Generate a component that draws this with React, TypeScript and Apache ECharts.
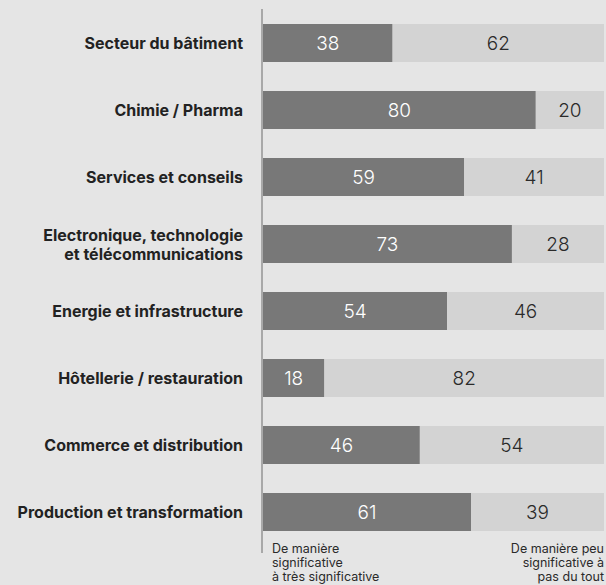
import React, { useEffect, useRef } from "react";
import * as echarts from "echarts";

const categories = [
  "Secteur du bâtiment",
  "Chimie / Pharma",
  "Services et conseils",
  "Electronique, technologie\net télécommunications",
  "Energie et infrastructure",
  "Hôtellerie / restauration",
  "Commerce et distribution",
  "Production et transformation",
];
const significant = [38, 80, 59, 73, 54, 18, 46, 61];
const notSignificant = [62, 20, 41, 28, 46, 82, 54, 39];
const leftNote = "De manière\nsignificative\nà très significative";
const rightNote = "De manière peu\nsignificative à\npas du tout";

const FONT = "Inter, 'Noto Sans', sans-serif";

export default function App() {
  const ref = useRef<HTMLDivElement>(null);
  useEffect(() => {
    document.body.style.margin = "0";
    const chart = echarts.init(ref.current!, null, { renderer: "svg" });
    chart.setOption({
      animation: false,
      backgroundColor: "#e5e5e5",
      textStyle: { fontFamily: FONT },
      grid: { left: 263, right: 2, top: 9.5, bottom: 39.5, containLabel: false },
      xAxis: {
        type: "value",
        min: 0,
        max: 100,
        show: false,
      },
      yAxis: {
        type: "category",
        inverse: true,
        data: categories,
        axisLine: { show: false },
        axisTick: { show: false },
        axisLabel: {
          margin: 20,
          fontFamily: FONT,
          fontSize: 16,
          fontWeight: 700,
          color: "#222222",
          lineHeight: 19,
          align: "right",
        },
      },
      series: [
        {
          type: "bar",
          stack: "total",
          data: significant,
          barWidth: 38,
          itemStyle: { color: "#787878" },
          label: {
            show: true,
            position: "inside",
            color: "#ffffff",
            fontSize: 19,
            fontWeight: 300,
            fontFamily: FONT,
          },
        },
        {
          type: "bar",
          stack: "total",
          data: notSignificant,
          barWidth: 38,
          itemStyle: { color: "#d3d3d3" },
          label: {
            show: true,
            position: "inside",
            color: "#2a2a2a",
            fontSize: 19,
            fontWeight: 300,
            fontFamily: FONT,
          },
        },
      ],
      graphic: [
        {
          type: "line",
          shape: { x1: 262, y1: 9, x2: 262, y2: 553 },
          style: { stroke: "#a8a8a8", lineWidth: 2 },
          z: 10,
        },
        {
          type: "text",
          x: 272,
          y: 541,
          style: {
            text: leftNote,
            fontFamily: FONT,
            fontSize: 12.5,
            lineHeight: 14,
            fill: "#2a2a2a",
            textAlign: "left",
          },
        },
        {
          type: "text",
          x: 604,
          y: 541,
          style: {
            text: rightNote,
            fontFamily: FONT,
            fontSize: 12.5,
            lineHeight: 14,
            fill: "#2a2a2a",
            textAlign: "right",
          },
        },
      ],
    });
    return () => chart.dispose();
  }, []);
  return (
    <div
      ref={ref}
      style={{ width: 606, height: 585, position: "absolute", left: 0, top: 0 }}
    />
  );
}
